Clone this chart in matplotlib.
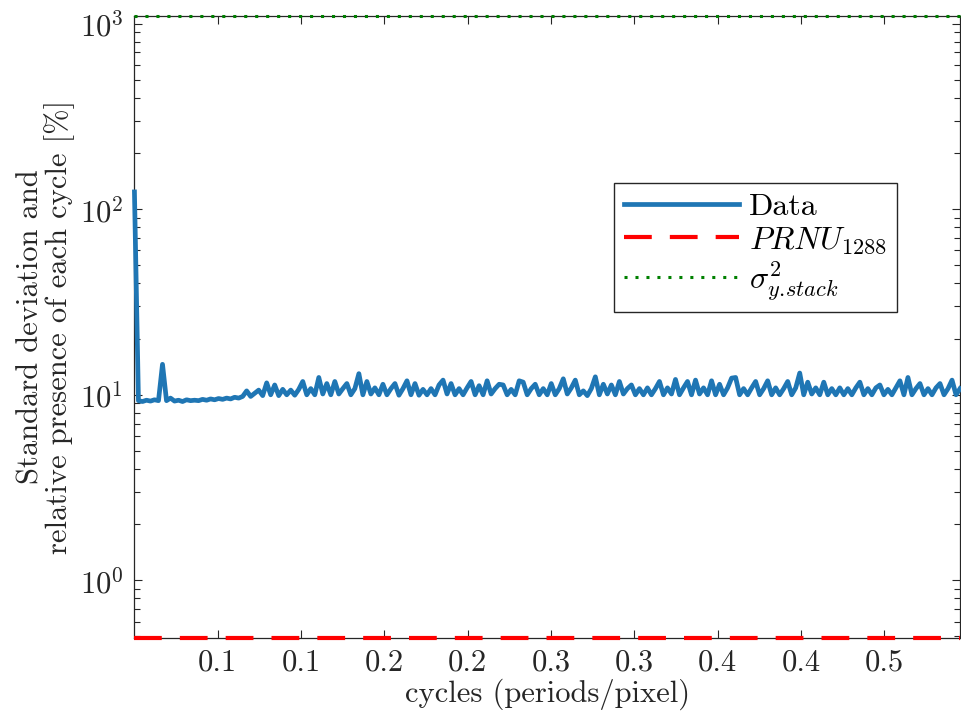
import numpy as np
import matplotlib
matplotlib.use('Agg')
import matplotlib.pyplot as plt
from matplotlib.ticker import LogLocator, NullFormatter

# --- datos ---
# desviacion estandar / presencia relativa de cada ciclo [%]
data_vals = [
    124.0, 9.3, 9.2, 9.35, 9.25, 9.4, 9.3, 14.6, 9.3, 9.6,
    9.25, 9.35, 9.2, 9.4, 9.3, 9.35, 9.3, 9.45, 9.35, 9.5,
    9.4, 9.55, 9.45, 9.6, 9.5, 9.7, 9.6, 9.8, 10.5, 9.8,
    10.2, 10.6, 9.9, 11.6, 10.0, 11.3, 9.9, 10.7, 10.0, 10.6,
    9.95, 10.7, 11.8, 10.0, 10.8, 10.0, 12.4, 10.1, 11.5, 10.0,
    11.8, 10.1, 10.8, 11.5, 10.0, 10.8, 13.0, 10.0, 11.8, 10.1,
    10.9, 10.0, 11.4, 10.0, 10.8, 11.5, 9.95, 10.8, 11.9, 10.0,
    11.5, 9.95, 10.7, 10.0, 10.8, 10.0, 11.3, 12.0, 10.1, 11.5,
    10.0, 10.8, 10.0, 10.9, 11.8, 10.0, 11.2, 10.0, 11.9, 10.1,
    10.8, 11.4, 11.3, 10.0, 10.7, 10.0, 11.9, 11.7, 10.0, 10.8,
    11.4, 10.0, 10.8, 10.0, 11.5, 10.0, 10.8, 12.2, 10.1, 10.9,
    12.0, 10.0, 10.5, 9.9, 10.8, 12.5, 10.0, 11.4, 10.1, 11.3,
    10.0, 11.8, 10.1, 10.8, 11.3, 10.0, 10.8, 10.0, 10.9, 10.0,
    10.8, 11.8, 10.0, 10.9, 10.1, 12.1, 10.0, 10.9, 11.8, 10.0,
    12.0, 10.1, 10.9, 10.0, 11.9, 10.0, 11.4, 10.0, 10.9, 12.3,
    12.4, 10.0, 10.8, 10.0, 10.9, 11.8, 10.0, 10.8, 11.9, 10.0,
    10.9, 10.0, 10.8, 11.8, 10.0, 10.9, 13.1, 10.0, 11.7, 10.1,
    10.9, 10.0, 11.7, 10.0, 10.8, 10.0, 10.9, 10.0, 10.8, 10.0,
    10.9, 11.7, 10.0, 10.8, 10.0, 10.9, 11.3, 10.0, 10.7, 10.0,
    10.9, 11.9, 10.0, 12.4, 10.0, 10.8, 11.5, 10.0, 10.8, 10.0,
    10.9, 11.5, 10.0, 10.8, 12.0, 10.0, 10.8,
]
x_max = 0.545  # ciclos (periodos/pixel)
cycles = np.linspace(0, x_max, len(data_vals))

prnu_1288 = 0.487
sigma_stack = 1100.0

xtick_pos = [0.055, 0.11, 0.165, 0.22, 0.275, 0.33, 0.385, 0.44, 0.495]
xtick_labels = ['0.1', '0.1', '0.2', '0.2', '0.3', '0.3', '0.4', '0.4', '0.5']
ytick_pos = [1, 10, 100, 1000]
ytick_labels = [r'$10^{0}$', r'$10^{1}$', r'$10^{2}$', r'$10^{3}$']

# --- estilo ---
plt.rcParams.update({
    'font.family': 'serif',
    'font.serif': ['cmr10'],
    'mathtext.fontset': 'cm',
    'axes.formatter.use_mathtext': True,
    'axes.unicode_minus': False,
    'lines.scale_dashes': False,
})
FS = 22
AXC = '#262626'

fig = plt.figure(figsize=(9.61, 7.19), dpi=100)
ax = fig.add_axes([0.1399, 0.1122, 0.999 - 0.1399, 0.9777 - 0.1122])

ax.plot(cycles, data_vals, color='#1f76b4', lw=3.4, label='Data',
        clip_on=False, zorder=3)
ax.axhline(prnu_1288, color='r', lw=3.0, dashes=(20, 13),
           label=r'$PRNU_{1288}$', clip_on=False, zorder=4)
ax.axhline(sigma_stack, color=(0, 0.5, 0), lw=2.2, dashes=(2.2, 5.7),
           label=r'$\sigma^2_{y.\!stack}$', clip_on=False, zorder=4)

ax.set_yscale('log')
ax.set_xlim(0, x_max)
ax.set_ylim(prnu_1288, sigma_stack)

ax.set_xticks(xtick_pos, xtick_labels)
ax.set_yticks(ytick_pos, ytick_labels)
ax.yaxis.set_minor_locator(LogLocator(base=10, subs=np.arange(2, 10)))
ax.yaxis.set_minor_formatter(NullFormatter())

ax.tick_params(which='both', direction='in', top=True, right=True,
               color=AXC, labelcolor=AXC, labelsize=FS, width=0.8)
ax.tick_params(which='major', length=6, pad=8)
ax.tick_params(which='minor', length=4)
for s in ax.spines.values():
    s.set_color(AXC)
    s.set_linewidth(0.9)

ax.set_xlabel('cycles (periods/pixel)', fontsize=FS, color=AXC, labelpad=1)
ax.set_ylabel('Standard deviation and\nrelative presence of each cycle [%]',
              fontsize=FS, color=AXC, linespacing=1.0, labelpad=3)

leg = ax.legend(loc='upper left', bbox_to_anchor=(614 / 961, 1 - 183 / 719),
                bbox_transform=fig.transFigure, borderaxespad=0, fontsize=23,
                handlelength=3.6, handletextpad=0.33, labelspacing=0.12,
                borderpad=0.3, fancybox=False, edgecolor=AXC, framealpha=1)
leg.get_frame().set_linewidth(1.0)

fig.savefig('out.png', dpi=100)
